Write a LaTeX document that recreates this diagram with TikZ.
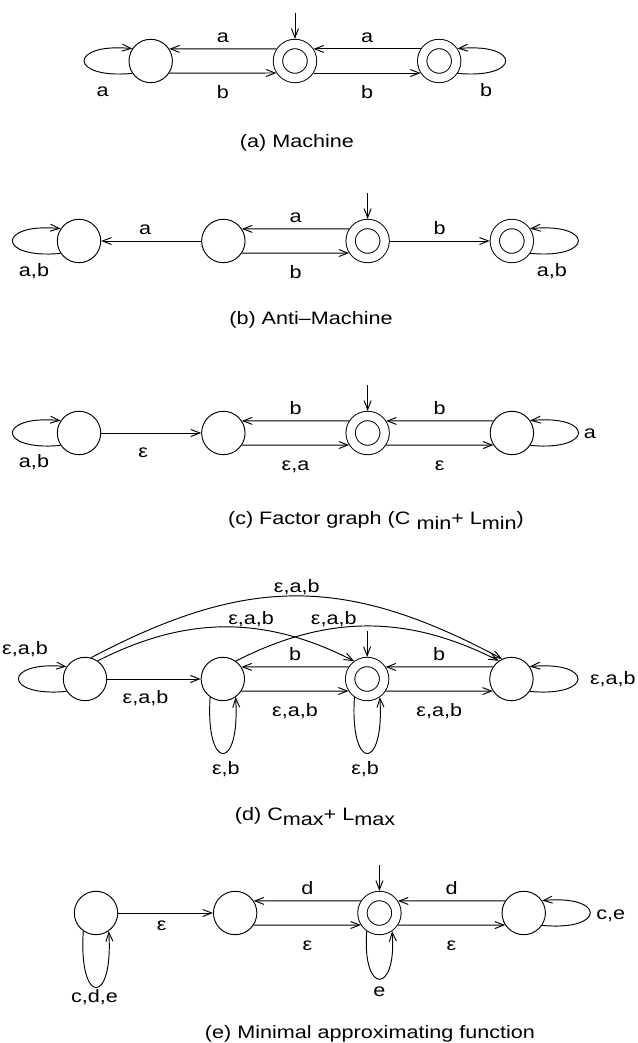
\documentclass[tikz,border=0pt]{standalone}
\usepackage{fontspec}
\setmainfont[FakeStretch=1.2]{Liberation Sans}
\usetikzlibrary{arrows.meta,positioning}

% lowered index text, same size as the line
\newcommand{\lowsub}[1]{\raisebox{-5pt}{#1}}

\begin{document}
\begin{tikzpicture}[
  x=1pt, y=1pt,
  line width=0.95pt,
  node distance=100pt,
  every node/.style={font=\fontsize{18}{21}\selectfont},
  state/.style={circle, draw, minimum size=43.4pt, inner sep=0pt},
  accept/.style={state, double, double distance=8.4pt, minimum size=34pt,
                 outer sep=5.1pt},
  arrow/.style={-{Straight Barb[length=9pt, width=7pt]}},
  lbl/.style={anchor=base},
  lblup/.style={anchor=base, yshift=6pt},
  lbldn/.style={anchor=base, yshift=-25pt}
]
\useasboundingbox (0,0) rectangle (637,1043);

% (a) machine
\node[state] (a1) at (150.7,982) {};
\node[accept, right=of a1] (a2) {};
\node[accept, right=of a2] (a3) {};
\coordinate[above=26pt of a2] (a0);
\node[lbl] (capa) at (297,895) {(a) Machine};

% (b) anti-machine
\node[state] (b1) at (79,802) {};
\node[state, right=of b1] (b2) {};
\node[accept, right=of b2] (b3) {};
\node[accept, right=of b3] (b4) {};
\coordinate[above=26pt of b3] (b0);
\node[lbl] (capb) at (311,718) {(b) Anti--Machine};

% (c) factor graph
\node[state] (c1) at (79,610) {};
\node[state, right=of c1] (c2) {};
\node[accept, right=of c2] (c3) {};
\node[state, right=of c3] (c4) {};
\coordinate[above=26pt of c3] (c0);
\node[lbl] (capc) at (376,518) {(c) Factor graph (C \lowsub{min}+ L\lowsub{min})};

% (d) C_max + L_max
\node[state] (d1) at (85,364) {};
\node[state, right=93.5pt of d1] (d2) {};
\node[accept, right=of d2] (d3) {};
\node[state, right=of d3] (d4) {};
\coordinate[above=26pt of d3] (d0);
\node[lbl] (capd) at (315,222) {(d) C\lowsub{max}+ L\lowsub{max}};

% (e) minimal approximating function
\node[state] (e1) at (96,130) {};
\node[state, right=94.8pt of e1] (e2) {};
\node[accept, right=of e2] (e3) {};
\node[state, right=of e3] (e4) {};
\coordinate[above=26pt of e3] (e0);
\node[lbl] (cape) at (370,5) {(e) Minimal approximating function};

% start arrows
\foreach \n in {a,b,c,d,e}
  \draw[arrow] (\n0) -- (\n0 |- \n3.north);

% parallel pairs: top runs leftwards, bottom runs rightwards
\foreach \a/\b/\t in {a2/a1/a, a3/a2/a, b3/b2/a, c3/c2/b, c4/c3/b,
                      d3/d2/b, d4/d3/b, e3/e2/d, e4/e3/d}
  \draw[arrow] (\a.147) -- node[lblup] {\t} (\b.33);
\foreach \a/\b/\t in {a1/a2/b, a2/a3/b, b2/b3/b, c2/c3/{ε,a}, c3/c4/ε,
                      d2/d3/{ε,a,b}, d3/d4/{ε,a,b}, e2/e3/ε, e3/e4/ε}
  \draw[arrow] (\a.-33) -- node[lbldn] {\t} (\b.213);

% single transitions
\draw[arrow] (b2) -- node[lblup, pos=0.56] {a} (b1);
\draw[arrow] (b3) -- node[lblup] {b} (b4);
\draw[arrow] (c1) -- node[lbldn, pos=0.42] {ε} (c2);
\draw[arrow] (d1) -- node[lbldn, pos=0.41] {ε,a,b} (d2);
\draw[arrow] (e1) -- node[lbl, yshift=-18pt, pos=0.46] {ε} (e2);

% long arcs in (d)
\draw[arrow] (d1.74) to[bend left=28, looseness=1.1]
  node[lbl, yshift=3pt] {ε,a,b} (d4.115);
\draw[arrow] (d1.55) to[bend left=27]
  node[lbl, yshift=4pt, pos=0.6] {ε,a,b} (d3.126);
\draw[arrow] (d2.54) to[bend left=27]
  node[lbl, yshift=4pt, pos=0.37] {ε,a,b} (d4.125);

% self loops
\foreach \n in {a1,b1,c1,d1}
  \draw[arrow] (\n.214) .. controls +(-64,-6) and +(-64,6) .. (\n.146);
\foreach \n in {a3,b4,c4,d4,e4}
  \draw[arrow] (\n.-34) .. controls +(64,-6) and +(64,6) .. (\n.34);
\foreach \n/\h in {d2/75,d3/75,e1/75,e3/64}
  \draw[arrow] (\n.235) .. controls +(-5,-\h) and +(5,-\h) .. (\n.305);

% loop labels
\node[lbl] (la1) at ([shift={(-48,-36)}]a1) {a};
\node[lbl] (la3) at ([shift={(47,-36)}]a3) {b};
\node[lbl] (lb1) at ([shift={(-45,-36)}]b1) {a,b};
\node[lbl] (lb4) at ([shift={(40,-36)}]b4) {a,b};
\node[lbl] (lc1) at ([shift={(-45,-35)}]c1) {a,b};
\node[lbl] (lc4) at ([shift={(78,-6)}]c4) {a};
\node[lbl] (ld1) at ([shift={(-60,24)}]d1) {ε,a,b};
\node[lbl] (ld2) at ([shift={(3,-96)}]d2) {ε,b};
\node[lbl] (ld3) at ([shift={(-2,-96)}]d3) {ε,b};
\node[lbl] (ld4) at ([shift={(101.5,-6)}]d4) {ε,a,b};
\node[lbl] (le1) at ([shift={(-1.5,-90)}]e1) {c,d,e};
\node[lbl] (le3) at ([shift={(0,-84)}]e3) {e};
\node[lbl] (le4) at ([shift={(87,-7)}]e4) {c,e};
\end{tikzpicture}
\end{document}
